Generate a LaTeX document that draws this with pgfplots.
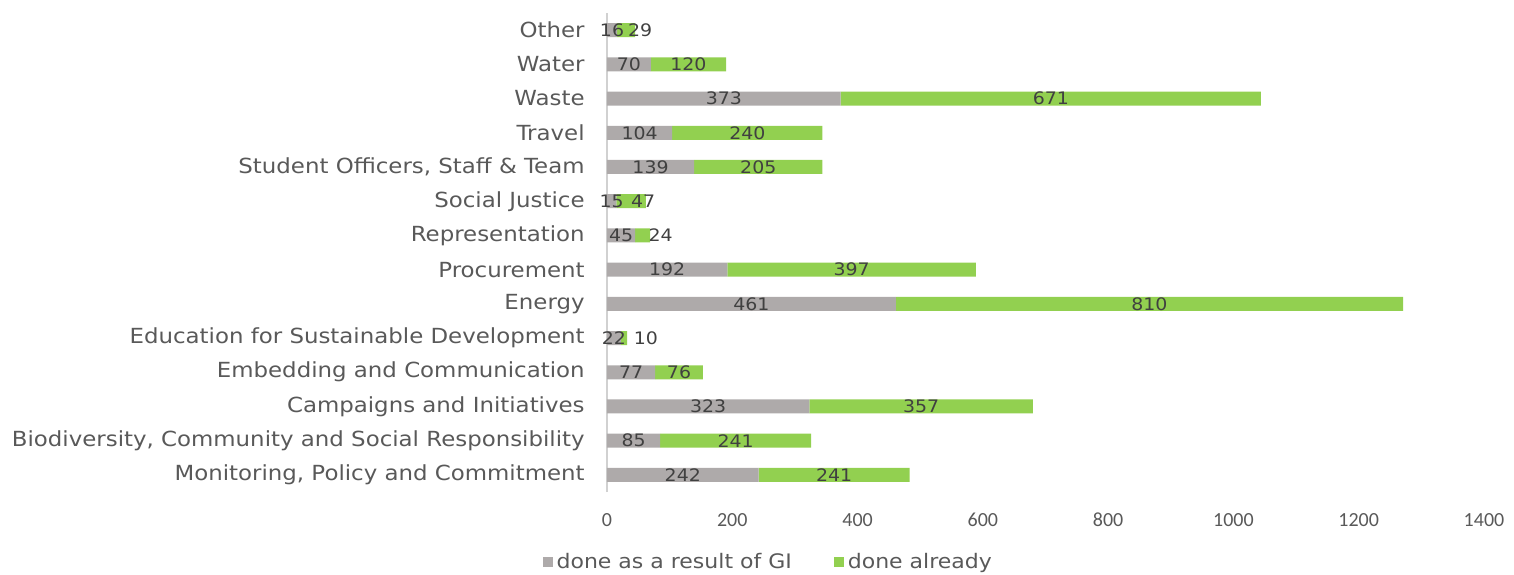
\documentclass[border=0pt]{standalone}
\usepackage{fontspec}
\setmainfont{DejaVu Sans}[FakeStretch=1.1]
\newfontfamily\calibri{Carlito}
\usepackage{pgfplots}
\usepackage{pgfplotstable}
\pgfplotsset{compat=1.18}

\definecolor{barGray}{HTML}{AEAAAA}
\definecolor{barGreen}{HTML}{92D050}
\definecolor{txtGray}{HTML}{595959}
\definecolor{lblGray}{HTML}{404040}

% idx: category position (bottom to top), gi = done as a result of GI, al = done already
\pgfplotstableread{
idx gi  al
0   242 241
1   85  241
2   323 357
3   77  76
4   22  10
5   461 810
6   192 397
7   45  24
8   15  47
9   139 205
10  104 240
11  373 671
12  70  120
13  16  29
}\data

\begin{document}
\begin{tikzpicture}
\path[use as bounding box] (-303.5pt,-41pt) rectangle (453.5pt,246pt);
\begin{axis}[
    at={(0,0)}, anchor=south west,
    scale only axis,
    width=438.5pt, height=239.5pt,
    xbar stacked,
    bar width=7pt,
    xmin=0, xmax=1400,
    ymin=-0.5, ymax=13.5,
    xtick={0,200,...,1400},
    ytick={0,...,13},
    yticklabels={
        {Monitoring, Policy and Commitment},
        {Biodiversity, Community and Social Responsibility},
        Campaigns and Initiatives,
        Embedding and Communication,
        Education for Sustainable Development,
        Energy,
        Procurement,
        Representation,
        Social Justice,
        {Student Officers, Staff \& Team},
        Travel,
        Waste,
        Water,
        Other},
    axis lines*=left,
    x axis line style={draw=none},
    y axis line style={draw=black!18, line width=0.8pt},
    major tick length=0pt,
    /pgf/number format/assume math mode=true,
    /pgf/number format/1000 sep={},
    xticklabel style={font=\calibri\fontsize{10}{12}\selectfont, text=txtGray, anchor=center, yshift=-14pt},
    yticklabel style={font=\fontsize{10.4}{12}\selectfont, text=txtGray, anchor=east, inner sep=0pt, xshift=-11pt},
    legend style={at={(0.185,0)}, anchor=center, yshift=-35pt, draw=none, fill=none,
        font=\fontsize{10}{12}\selectfont, text=txtGray,
        legend columns=2,
        /tikz/every even column/.append style={column sep=19pt}},
    legend image code/.code={\fill[#1,draw=none] (0pt,-2.5pt) rectangle (5pt,2.5pt);},
]
% with anchor=center the labels sit in the middle of each segment
\addplot[fill=barGray, draw=none,
    point meta=explicit symbolic,
    nodes near coords={\pgfplotspointmeta},
    nodes near coords style={anchor=center, font=\fontsize{8.6}{10}\selectfont, text=lblGray}]
    table[x=gi, y=idx, meta=gi] {\data};
% crowded green labels are nudged right, as in the chart
\addplot[fill=barGreen, draw=none,
    point meta=explicit symbolic,
    visualization depends on={rawy \as \yy},
    nodes near coords={\pgfplotspointmeta},
    nodes near coords style={anchor=center, font=\fontsize{8.6}{10}\selectfont, text=lblGray,
        xshift={{0,0,0,0,11,0,0,9,6,0,0,0,0,7}[\yy]*1pt}}]
    table[x=al, y=idx, meta=al] {\data};
\legend{done as a result of GI, done already}
\end{axis}
\end{tikzpicture}
\end{document}
